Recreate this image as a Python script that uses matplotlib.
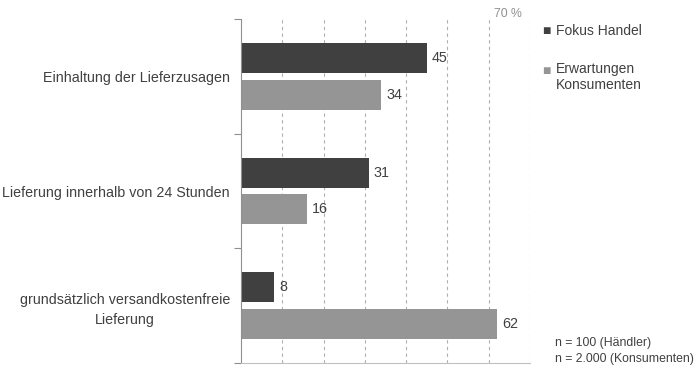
import matplotlib.pyplot as plt
import numpy as np

plt.rcParams['font.family'] = ['Liberation Sans', 'DejaVu Sans']

# data
categories = ['Einhaltung der Lieferzusagen',
              'Lieferung innerhalb von 24 Stunden',
              'grundsätzlich versandkostenfreie\nLieferung']
handel = [45, 31, 8]
konsumenten = [34, 16, 62]
series_names = ['Fokus Handel', 'Erwartungen\nKonsumenten']
notes = ['n = 100 (Händler)', 'n = 2.000 (Konsumenten)']

dark = '#404040'
light = '#959595'
txt = '#404040'

fig = plt.figure(figsize=(6.98, 3.83), dpi=100)
ax = fig.add_axes([241 / 698, 20 / 383, 289 / 698, 344 / 383])

y = np.arange(len(categories))
off = 0.16
h = 0.26
b1 = ax.barh(y - off, handel, height=h, color=dark)
b2 = ax.barh(y + off, konsumenten, height=h, color=light)

for bars in (b1, b2):
    for bar in bars:
        w = bar.get_width()
        ax.annotate(f'{w:g}', (w, bar.get_y() + bar.get_height() / 2),
                    xytext=(3.5, 0), textcoords='offset points',
                    ha='left', va='center', fontsize=10.3, color=txt)

ax.set_xlim(0, 70)
ax.set_ylim(2.5, -0.5)
ax.set_xticks(np.arange(10, 71, 10))
ax.tick_params(axis='x', length=0, labelbottom=False)
ax.xaxis.grid(True, linestyle=(0, (3, 3)), color='#b0b0b0', linewidth=0.8)
ax.set_axisbelow(True)

ax.set_yticks(y)
ax.set_yticklabels(categories, fontsize=10.3, color=txt, multialignment='center',
                   linespacing=1.5)
ax.tick_params(axis='y', which='major', length=0, pad=8)
ax.set_yticks([-0.5, 0.5, 1.5, 2.5], minor=True)
ax.tick_params(axis='y', which='minor', length=5, color='#909090', width=0.8)

for s in ('top', 'right'):
    ax.spines[s].set_visible(False)
ax.spines['left'].set_color('#909090')
ax.spines['bottom'].set_color('#c0c0c0')

ax.text(68.1, 1.015, '70 %', transform=ax.get_xaxis_transform(), ha='right', va='center',
        fontsize=8.8, color='#909090')

# legend drawn by hand so the marker sits on the first line
fig.text(542 / 698, 1 - 31 / 383, '■', color=dark, fontsize=10, va='center', ha='left')
fig.text(556 / 698, 1 - 31 / 383, series_names[0], color=txt, fontsize=10, va='center')
fig.text(542 / 698, 1 - 71 / 383, '■', color=light, fontsize=10, va='center', ha='left')
fig.text(556 / 698, 1 - 62 / 383, series_names[1], color=txt, fontsize=10, va='top',
         linespacing=1.2)

fig.text(555 / 698, 1 - 343 / 383, notes[0], color=txt, fontsize=8.8, va='center')
fig.text(555 / 698, 1 - 359 / 383, notes[1], color=txt, fontsize=8.8, va='center')

fig.savefig('out.png', dpi=100, facecolor='white')
